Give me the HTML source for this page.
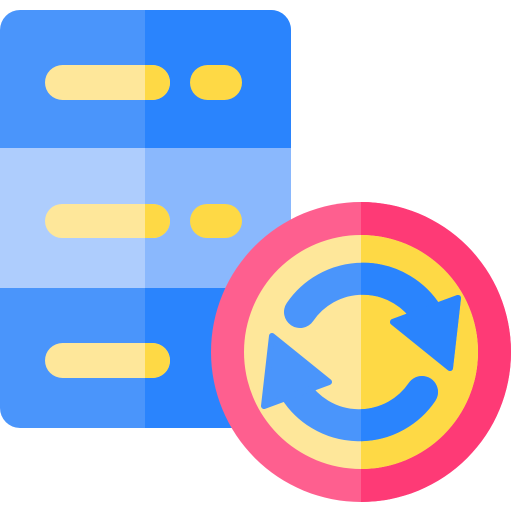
<!DOCTYPE html>
<html><head><style>html,body{margin:0;padding:0;background:#fff}svg{display:block}</style></head>
<body>
<svg width="512" height="512" viewBox="0 0 512 512" xmlns="http://www.w3.org/2000/svg">
<defs>
<clipPath id="sr"><rect x="145" y="0" width="200" height="512"/></clipPath>
<clipPath id="cr"><rect x="361" y="0" width="200" height="512"/></clipPath>
<g id="arrows">
<path d="M300 312 A76 76 0 0 1 427 314" fill="none" stroke-width="32" stroke-linecap="round"/>
<path d="M393 322 L458 298 L450 368 Z" stroke-width="6" stroke-linejoin="round"/>
<path d="M422 392 A76 76 0 0 1 295 390" fill="none" stroke-width="32" stroke-linecap="round"/>
<path d="M329 382 L264 406 L272 336 Z" stroke-width="6" stroke-linejoin="round"/>
</g>
</defs>
<!-- server -->
<g>
<path d="M20 10 H271 A20 20 0 0 1 291 30 V148 H0 V30 A20 20 0 0 1 20 10Z" fill="#4a95fb"/>
<rect x="0" y="148" width="291" height="140" fill="#aecdfd"/>
<path d="M0 288 H291 V408 A20 20 0 0 1 271 428 H20 A20 20 0 0 1 0 408Z" fill="#4a95fb"/>
<g clip-path="url(#sr)">
<path d="M20 10 H271 A20 20 0 0 1 291 30 V148 H0 V30 A20 20 0 0 1 20 10Z" fill="#2a84fd"/>
<rect x="0" y="148" width="291" height="140" fill="#8ab8fd"/>
<path d="M0 288 H291 V408 A20 20 0 0 1 271 428 H20 A20 20 0 0 1 0 408Z" fill="#2a84fd"/>
</g>
<rect x="45" y="65" width="125" height="35" rx="17.5" fill="#fee79a"/>
<rect x="45" y="204" width="125" height="34" rx="17" fill="#fee79a"/>
<rect x="45" y="343" width="125" height="35" rx="17.5" fill="#fee79a"/>
<g clip-path="url(#sr)" fill="#fed945">
<rect x="45" y="65" width="125" height="35" rx="17.5"/>
<rect x="45" y="204" width="125" height="34" rx="17"/>
<rect x="45" y="343" width="125" height="35" rx="17.5"/>
</g>
<rect x="190" y="65" width="52" height="35" rx="17.5" fill="#fed945"/>
<rect x="190" y="204" width="52" height="34" rx="17" fill="#fed945"/>
</g>
<!-- circle -->
<circle cx="361" cy="352" r="150" fill="#fe5f8f"/>
<circle cx="361" cy="352" r="150" fill="#fe3a76" clip-path="url(#cr)"/>
<circle cx="361" cy="352" r="117" fill="#fee79a"/>
<circle cx="361" cy="352" r="117" fill="#fed945" clip-path="url(#cr)"/>
<use href="#arrows" fill="#4a95fb" stroke="#4a95fb"/>
<g clip-path="url(#cr)"><use href="#arrows" fill="#2a84fd" stroke="#2a84fd"/></g>
</svg>
</body></html>
